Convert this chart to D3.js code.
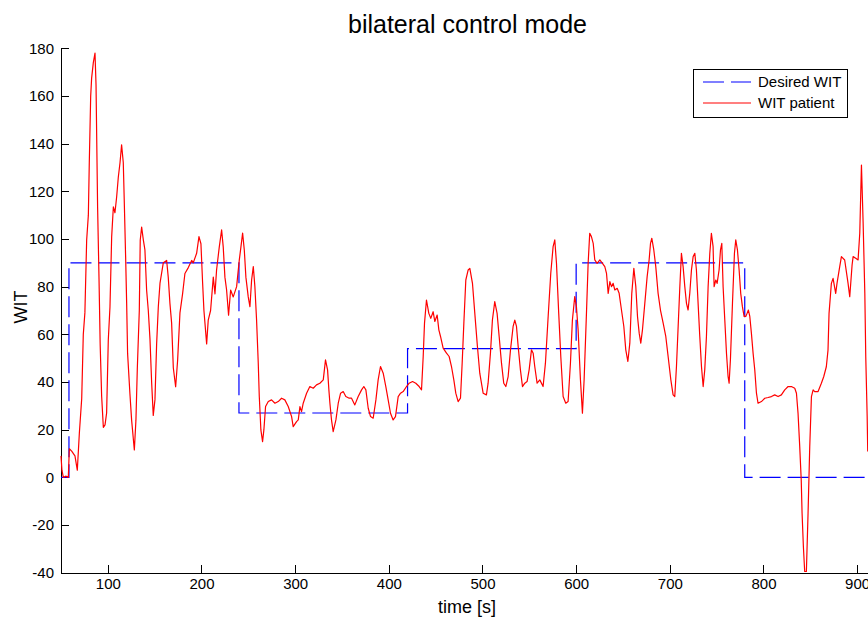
<!DOCTYPE html>
<meta charset="utf-8">
<title>bilateral control mode</title>
<style>
body { margin: 0; background: #fff; }
svg { display: block; font-family: "Liberation Sans", Arial, sans-serif; }
.axis path, .axis line { stroke: #000; shape-rendering: crispEdges; }
.axis text { font-size: 15px; fill: #000; font-family: "Liberation Sans", Arial, sans-serif; }
</style>

<svg width="868" height="617"></svg>

<script src="https://d3js.org/d3.v7.min.js"></script>
<script>

// desired WIT (step reference)
var desiredTime = [50, 58.5, 58.5, 240, 240, 420, 420, 600, 600, 780, 780, 918];
var desiredWit  = [0, 0, 90, 90, 27, 27, 54, 54, 90, 90, 0, 0];

var patientTime = [
  50, 51, 52.5, 55, 57.8, 58.9, 61.4, 64.9, 67.4, 69.6, 72.1, 73.8, 75.5, 77.4, 79.2, 80.2, 81.7, 82.7, 84.5, 86.3,
  87.4, 88.1, 89.1, 90.6, 91.8, 93.4, 95.2, 97, 98.7, 100.5, 102.3, 104.1, 105.9, 107.6, 109.4, 111.2, 113, 114.7, 116.5, 117.6,
  119, 120.1, 121.1, 123.6, 125.4, 128.3, 130, 131.5, 133.6, 134.6, 136.1, 137.9, 139.6, 141.4, 143.2, 145, 146.8, 148.5, 150.3, 152.1,
  153.9, 155.7, 159.2, 162.8, 164.5, 166.3, 168.1, 169.9, 172.4, 174.5, 177, 179.8, 182.3, 185.9, 189.5, 191.2, 194.8, 197.3, 199.4, 201.2,
  202.6, 205.5, 207.2, 209.7, 212.6, 214.4, 216.1, 219, 221.5, 223.2, 225, 226.8, 228.9, 231.1, 233.9, 237.5, 238.5, 240.3, 242.1, 243.9,
  245.7, 247.4, 249.9, 251.7, 253.5, 255.3, 257, 258.8, 260.6, 261.7, 263.4, 265.2, 266.6, 268.4, 271.3, 274.8, 278.4, 281.9, 285.5, 289,
  292.6, 296.2, 297.9, 301.5, 303.3, 305.1, 306.8, 308.6, 312.2, 315.7, 319.3, 322.8, 326.4, 330, 332.4, 334.6, 336, 337.1, 338.8, 340.6,
  343.5, 346, 348.5, 351.3, 354.1, 357.7, 360.2, 363.7, 367.3, 370.9, 373.3, 375.5, 378, 380.5, 383.3, 386.2, 388.6, 391.1, 394, 396.8,
  399.3, 401.8, 404.6, 407.1, 410, 412.5, 415.3, 418.9, 421.7, 425.3, 428.8, 432.4, 434.9, 436.7, 438.1, 440.2, 442.7, 444.8, 447.3, 449.1,
  451.6, 453.4, 455.2, 458, 461.6, 464.4, 466.9, 469.4, 471.5, 474, 476.5, 478.3, 480.1, 482.2, 484.7, 486.5, 489.3, 491.8, 494.6, 497.1,
  500.7, 504.2, 506, 508.5, 510.6, 513.1, 515.6, 517.8, 520.3, 522.7, 524.9, 527.4, 529.9, 532.7, 534.5, 536.3, 538.1, 540.5, 542.7, 545.2,
  547.6, 549.8, 552.3, 554.1, 555.8, 558.3, 561.2, 564.7, 567.2, 570.1, 572.9, 575.4, 577.2, 579, 581.4, 583.6, 586.1, 588.9, 591.4, 593.9,
  596, 598.5, 600.3, 602.1, 604.6, 606.7, 608.5, 611, 612.8, 614.5, 616.3, 618.2, 619.9, 622.4, 625.3, 628.1, 630.6, 632.4, 634.2, 636,
  637.7, 639.5, 641.3, 643.8, 645.9, 648.4, 650.9, 653, 655.2, 657.3, 659.4, 661.6, 663.7, 665.5, 667.3, 669, 670.8, 673.3, 675.8, 677.9,
  679.4, 680.8, 682.9, 685, 687.5, 690, 692.9, 695.7, 698.2, 701.1, 703.5, 705.3, 707.1, 708.9, 710.7, 712.4, 714.2, 716, 717.8, 719.5,
  721.3, 723.1, 724.9, 726.7, 728.4, 730.2, 732, 733.8, 735.6, 737.3, 739.1, 740.9, 742.7, 744.4, 746.2, 747.3, 749.1, 750.5, 752.6, 754.1,
  755.5, 756.9, 758.7, 760.5, 762.2, 763.3, 764.7, 766.9, 769, 770.4, 772.2, 774, 775.7, 777.5, 779.3, 781.1, 782.5, 783.9, 785.4, 787.1,
  788.9, 790.7, 792.5, 794.2, 797.8, 801.4, 804.9, 808.5, 812, 815.6, 819.1, 822.7, 826.3, 829.8, 833.4, 835.2, 836.9, 838.7, 840.3, 841.2,
  842.6, 844, 845.8, 847.6, 849.4, 851.2, 853, 854.7, 858.3, 861.8, 864.3, 867.1, 868.9, 870, 872.5, 874.3, 877.1, 878.5, 881.4, 883.2,
  886.7, 890.3, 892.1, 894.6, 895.7, 898.5, 901, 902.8, 904.6, 906.4, 908.2, 909.2, 910.7, 911.3
];
var patientWit = [
  9, 3, 0, 0.5, 0, 12, 11, 9, 3, 18.6, 33, 60, 69, 99.6, 110, 132, 160, 167.5, 174, 178,
  164.6, 143, 113, 83, 56, 34, 21, 22, 27, 57.7, 71.6, 101, 113.5, 111, 117.6, 126, 132, 139.5, 132, 115,
  92.5, 73, 52, 35, 24, 11.5, 24, 46, 70, 99.6, 105, 99.6, 95.4, 78.6, 70, 58, 39.6, 26, 32.5, 56,
  71.6, 81.5, 90, 91, 84, 73, 64.8, 46, 38, 49, 69, 77, 85.5, 88, 91, 90, 94, 101, 98, 81.5,
  70, 56, 66, 70, 84, 77, 87, 96.7, 103.8, 96.7, 84, 78.6, 68, 78.6, 75.7, 80, 84, 91, 96.7, 102.5,
  95.4, 84, 75.7, 71.6, 82.8, 88.4, 80, 66, 47.9, 33.9, 19.9, 15, 19.9, 29.7, 31.8, 32.5, 31.1, 31.8, 33.2, 32.5,
  29.7, 25.5, 21.3, 23.4, 24.1, 29.7, 27.6, 31.1, 35.3, 38.1, 37.4, 38.8, 39.5, 40.9, 49.3, 45.1, 36.7, 31.1, 24.1, 19.2,
  24.1, 31.1, 35.3, 36, 33.9, 33.2, 33.2, 30.4, 33.9, 36.7, 38.1, 36.7, 29, 25.5, 24.8, 32.5, 40.9, 46.5, 43.7, 38.1,
  32.5, 26.9, 24.1, 25.5, 33.9, 35.3, 36, 38.1, 39.5, 40.2, 39.5, 38.1, 36.7, 50.7, 64.7, 74.4, 68.8, 66.7, 69.5, 65.4,
  68.1, 61.9, 59.1, 54.2, 52.1, 50.7, 46.5, 40.9, 35.3, 31.8, 33.2, 47.9, 64.7, 82.8, 87, 87.7, 81.4, 68.8, 54.9, 43.7,
  35.3, 34.6, 39.5, 52.1, 66, 73.7, 68.8, 59.1, 47.9, 39.5, 38.1, 42.3, 53.5, 63.3, 66, 63.3, 54.9, 45.1, 38.1, 39.5,
  40.2, 45.1, 53.5, 52.1, 46.5, 39.5, 40.9, 38.1, 47.9, 67.4, 85.6, 96.8, 99.6, 89.8, 68.8, 50.7, 33.9, 31.1, 31.8, 47.9,
  66, 75.8, 71.6, 61.9, 40.9, 26.9, 40.9, 68.8, 89.8, 102.4, 101, 98.2, 91.2, 89.8, 91.2, 89.8, 88.4, 85.6, 77.2, 82.1,
  80, 81.4, 78.6, 79.3, 77.2, 70.2, 63.3, 53.5, 48.6, 56.3, 77.2, 87.7, 80, 67.5, 60.5, 56.3, 61.9, 73, 84.2, 91.2,
  98.2, 100.3, 95.4, 88.4, 77.2, 70.2, 64.7, 59.1, 50.7, 40.9, 34.6, 33.9, 46.5, 63.3, 80, 94, 88.4, 80, 73, 70.2,
  77.2, 87, 92.6, 94, 87, 73, 59.1, 46.5, 38.1, 45.1, 59.1, 80, 94, 102.4, 96.8, 80, 82.8, 81.4, 87, 95.4,
  98.2, 80, 66, 52.1, 42.3, 39.5, 49.3, 73, 94, 99.6, 95.4, 87, 77.2, 71.6, 67.5, 67.5, 68.8, 70.2, 67.5, 60.5,
  52.1, 45.1, 35.3, 31.1, 31.8, 33.2, 33.5, 33.9, 34.6, 33.9, 34.6, 36.7, 38.1, 38.1, 37.4, 35.3, 26.9, 12.9, -1, -15,
  -29, -39.5, -39.5, -15, 12.9, 33.9, 36.7, 36, 36, 39.5, 42.2, 46.4, 53.4, 68.8, 81.4, 83.5, 77.2, 81.4, 88.4, 92.6,
  91.2, 81.4, 75.8, 89.1, 92.6, 91.9, 91.2, 102.4, 131, 106.6, 77.2, 50.6, 25.5, 10.8
];

var xTicks = [100, 200, 300, 400, 500, 600, 700, 800, 900];
var yTicks = [-40, -20, 0, 20, 40, 60, 80, 100, 120, 140, 160, 180];

var svg = d3.select("svg");

var x = d3.scaleLinear().domain([50, 918]).range([61, 874]);
var y = d3.scaleLinear().domain([-40, 180]).range([572.7, 48.3]);

var line = d3.line()
    .x(function(d) { return x(d.t); })
    .y(function(d) { return y(d.v); });

var desired = desiredTime.map(function(t, i) { return {t: t, v: desiredWit[i]}; });
var patient = patientTime.map(function(t, i) { return {t: t, v: patientWit[i]}; });

// plain hyphen for negatives, like the original
function plainNum(d) { return String(d); }

// axes, ticks pointing inward like matlab
svg.append("g")
    .attr("class", "axis")
    .attr("transform", "translate(0," + y(-40) + ")")
    .call(d3.axisBottom(x).tickValues(xTicks).tickFormat(plainNum)
      .tickSize(-8).tickSizeOuter(0).tickPadding(6));

svg.append("g")
    .attr("class", "axis")
    .attr("transform", "translate(" + x(50) + ",0)")
    .call(d3.axisLeft(y).tickValues(yTicks).tickFormat(plainNum)
      .tickSize(-8).tickSizeOuter(0).tickPadding(7));

// desired
svg.append("path")
    .datum(desired)
    .attr("fill", "none")
    .attr("stroke", "#0000ff")
    .attr("stroke-width", 1.2)
    .attr("stroke-dasharray", "21,7")
    .attr("d", line);

// patient
svg.append("path")
    .datum(patient)
    .attr("fill", "none")
    .attr("stroke", "#ff0000")
    .attr("stroke-width", 1.2)
    .attr("stroke-linejoin", "round")
    .attr("d", line);

// title and labels
svg.append("text")
    .attr("x", 467.5)
    .attr("y", 33)
    .attr("text-anchor", "middle")
    .style("font-size", "25px")
    .text("bilateral control mode");

svg.append("text")
    .attr("x", 467)
    .attr("y", 613)
    .attr("text-anchor", "middle")
    .style("font-size", "18px")
    .text("time [s]");

svg.append("text")
    .attr("transform", "translate(27,307) rotate(-90)")
    .attr("text-anchor", "middle")
    .style("font-size", "18px")
    .text("WIT");

// legend
var legend = svg.append("g");
legend.append("rect")
    .attr("x", 693.5).attr("y", 69.5)
    .attr("width", 154).attr("height", 48)
    .attr("fill", "#fff")
    .attr("stroke", "#000");

legend.append("line")
    .attr("x1", 703).attr("x2", 751).attr("y1", 82).attr("y2", 82)
    .attr("stroke", "#0000ff").attr("stroke-width", 1.2)
    .attr("stroke-dasharray", "21,7");
legend.append("text")
    .attr("x", 758).attr("y", 87)
    .style("font-size", "15px")
    .text("Desired WIT");

legend.append("line")
    .attr("x1", 703).attr("x2", 751).attr("y1", 103).attr("y2", 103)
    .attr("stroke", "#ff0000").attr("stroke-width", 1.2);
legend.append("text")
    .attr("x", 758).attr("y", 108)
    .style("font-size", "15px")
    .text("WIT patient");

</script>
